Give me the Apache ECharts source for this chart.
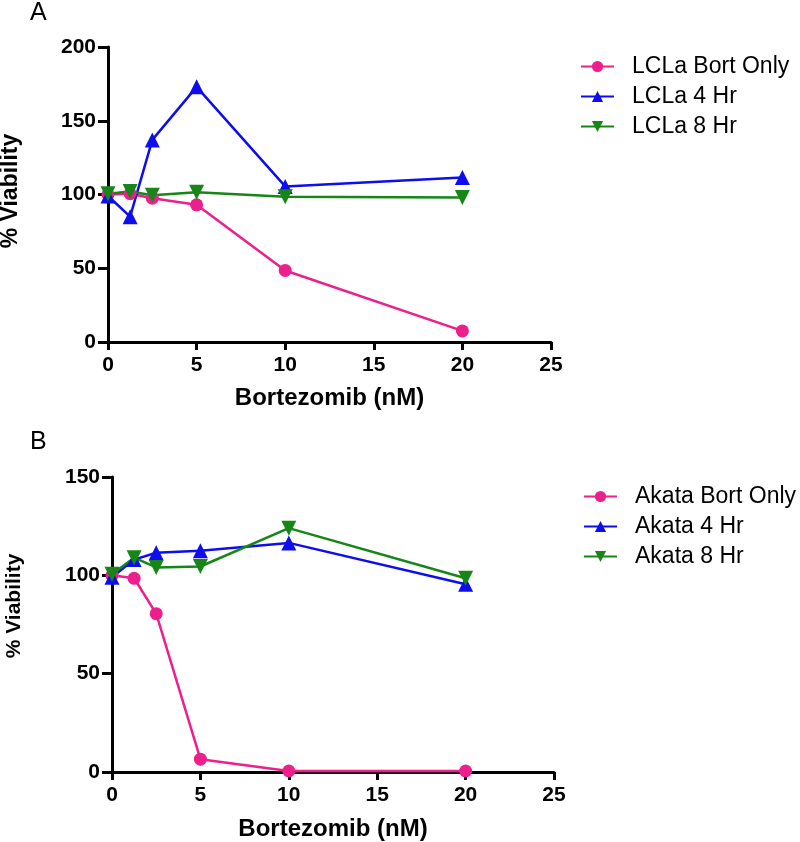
<!DOCTYPE html>
<html>
<head>
<meta charset="utf-8">
<script src="https://cdn.jsdelivr.net/npm/echarts@6/dist/echarts.min.js"></script>
<style>
  html, body { margin: 0; padding: 0; background: #fff; }
  #chart-container { width: 800px; height: 842px; }
</style>
</head>
<body>
<div id="chart-container"></div>
<script>
// Bortezomib doses (nM), shared by both panels
const doses = [0, 1.25, 2.5, 5, 10, 20];

// Panel A - LCLa
const lclaBortOnly = [100, 100.5, 97.5, 93, 48.5, 7.5];
const lcla4Hr = [99, 85, 137, 173, 105.5, 111.5];
const lcla8Hr = [100.5, 102, 99.5, 101.5, 98.5, 98];

// Panel B - Akata
const akataBortOnly = [100, 98.5, 80.5, 6.5, 0.5, 0.5];
const akata4Hr = [99, 108, 111.5, 112.5, 116.5, 95.5];
const akata8Hr = [100.5, 109, 104, 104.5, 124, 98.5];

const xTicks = [0, 5, 10, 15, 20, 25];

const PINK = '#ec1f8c';
const BLUE = '#0d0ded';
const GREEN = '#178517';
const FONT = 'Liberation Sans, Arial, sans-serif';

const chartContainer = document.getElementById('chart-container');
const myChart = echarts.init(chartContainer);

function pairs(ys) {
  return doses.map((d, i) => [d, ys[i]]);
}

function xAxisFor(gridIndex, nameGap) {
  return {
    gridIndex: gridIndex,
    type: 'value',
    min: xTicks[0],
    max: xTicks[xTicks.length - 1],
    interval: 5,
    name: 'Bortezomib (nM)',
    nameLocation: 'middle',
    nameGap: nameGap,
    nameTextStyle: { fontFamily: FONT, fontWeight: 'bold', fontSize: 24, color: '#000' },
    axisLine: { show: true, onZero: false, lineStyle: { color: '#000', width: 3 } },
    axisTick: { show: true, inside: false, length: 8, lineStyle: { color: '#000', width: 3 } },
    axisLabel: { fontFamily: FONT, fontWeight: 'bold', fontSize: 21, color: '#000', margin: 13 },
    splitLine: { show: false }
  };
}

function yAxisFor(gridIndex, max, fontSize, nameGap, shift) {
  return {
    gridIndex: gridIndex,
    type: 'value',
    min: 0,
    max: max,
    interval: 50,
    name: '% Viability',
    nameLocation: 'middle',
    nameGap: nameGap,
    nameRotate: 90,
    nameTextStyle: {
      fontFamily: FONT, fontWeight: 'bold', fontSize: fontSize, color: '#000',
      padding: [0, 0, 0, shift]
    },
    axisLine: { show: true, lineStyle: { color: '#000', width: 3 } },
    axisTick: { show: true, inside: false, length: 10, lineStyle: { color: '#000', width: 3 } },
    axisLabel: { fontFamily: FONT, fontWeight: 'bold', fontSize: 21, color: '#000', margin: 12 },
    splitLine: { show: false }
  };
}

function lineSeries(name, ys, idx, color, symbol, rotate) {
  return {
    name: name,
    type: 'line',
    xAxisIndex: idx,
    yAxisIndex: idx,
    data: pairs(ys),
    symbol: symbol,
    symbolSize: symbol === 'circle' ? 13 : 15,
    symbolRotate: rotate || 0,
    lineStyle: { color: color, width: 2.5 },
    itemStyle: { color: color },
    animation: false
  };
}

function legendFor(names, left, top) {
  return {
    data: names,
    orient: 'vertical',
    left: left,
    top: top,
    itemWidth: 33,
    itemHeight: 14,
    itemGap: 7,
    textStyle: { fontFamily: FONT, fontSize: 23, color: '#000', lineHeight: 23, padding: [0, 0, 0, 13] },
    selectedMode: false
  };
}

const option = {
  backgroundColor: '#fff',
  animation: false,
  graphic: [
    { type: 'text', left: 30, top: 1, style: { text: 'A', font: '25px ' + FONT, fill: '#000' } },
    { type: 'text', left: 30, top: 430, style: { text: 'B', font: '25px ' + FONT, fill: '#000' } }
  ],
  legend: [
    legendFor(['LCLa Bort Only', 'LCLa 4 Hr', 'LCLa 8 Hr'], 575, 50),
    legendFor(['Akata Bort Only', 'Akata 4 Hr', 'Akata 8 Hr'], 578, 480)
  ],
  grid: [
    { left: 108, top: 47, width: 443, height: 295, outerBoundsMode: 'none' },
    { left: 112, top: 477, width: 442, height: 295, outerBoundsMode: 'none' }
  ],
  xAxis: [xAxisFor(0, 44), xAxisFor(1, 45)],
  yAxis: [yAxisFor(0, 200, 23, 86, 7), yAxisFor(1, 150, 21, 87, 37)],
  series: [
    lineSeries('LCLa Bort Only', lclaBortOnly, 0, PINK, 'circle'),
    lineSeries('LCLa 4 Hr', lcla4Hr, 0, BLUE, 'triangle'),
    lineSeries('LCLa 8 Hr', lcla8Hr, 0, GREEN, 'triangle', 180),
    lineSeries('Akata Bort Only', akataBortOnly, 1, PINK, 'circle'),
    lineSeries('Akata 4 Hr', akata4Hr, 1, BLUE, 'triangle'),
    lineSeries('Akata 8 Hr', akata8Hr, 1, GREEN, 'triangle', 180)
  ]
};

myChart.setOption(option);
</script>
</body>
</html>
